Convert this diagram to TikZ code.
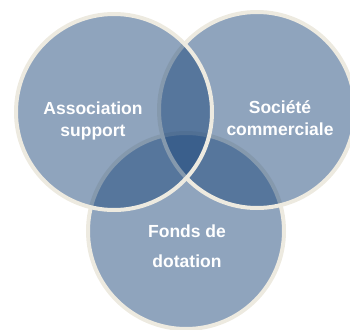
\documentclass[tikz,border=0pt]{standalone}
\usepackage{fontspec}
\setmainfont{Liberation Sans}
\usepackage{tikz}
\definecolor{bleuvenn}{RGB}{31,73,124}
\definecolor{bordvenn}{RGB}{237,234,224}
\tikzset{
    cercle/.style={
           circle,
           fill=bleuvenn, fill opacity=0.5,
           draw=bordvenn, draw opacity=1,
           line width=4pt,
           minimum size=196pt,
           inner sep=0pt,
           },
    etiquette/.style={
           %rectangle,
           %draw=black, very thick,
           text=white,
           font=\bfseries\fontsize{17.5}{22}\selectfont,
           inner sep=0pt,
           align=center,
           },
}

\begin{document}
\begin{tikzpicture}[x=1pt, y=-1pt]
	\useasboundingbox (0,0) rectangle (350,329);

	\node[cercle] (fonds) at (186,231) {};
	\node[cercle] (societe) at (257,110) {};
	\node[cercle] (asso) at (114,112) {};

	\node[etiquette] (txtasso) at (93,121) {Association\\support};
	\node[etiquette] (txtsociete) at (280,118) {Société\\commerciale};
	\node[etiquette, font=\bfseries\fontsize{17.5}{30}\selectfont] (txtfonds) at (187,246) {Fonds de\\dotation};

\end{tikzpicture}
\end{document}
